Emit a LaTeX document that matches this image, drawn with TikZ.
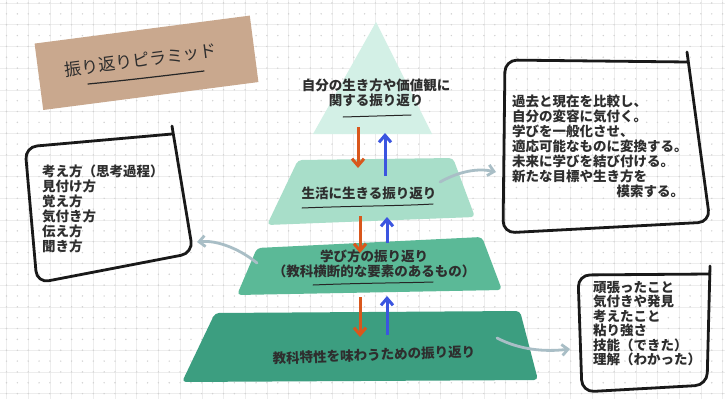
\documentclass[tikz,border=0pt]{standalone}
\usepackage{fontspec}
\setmainfont{Noto Sans CJK JP}
\usetikzlibrary{arrows.meta}
\definecolor{tan}{HTML}{C9A88E}
\definecolor{tierA}{HTML}{D3F0E6}
\definecolor{tierB}{HTML}{A8DEC9}
\definecolor{tierC}{HTML}{5BB997}
\definecolor{tierD}{HTML}{3C9E80}
\definecolor{downc}{HTML}{D9571C}
\definecolor{upc}{HTML}{3B55E0}
\definecolor{linkc}{HTML}{A9BEC6}
\definecolor{txt}{HTML}{2E2E2E}
\definecolor{gridc}{HTML}{EDEDED}
\definecolor{dotc}{HTML}{D2D2D2}
\tikzset{
  jtext/.style={font=\bfseries\fontsize{13.5}{15}\selectfont, text=txt, inner sep=0pt},
  boxtext/.style={jtext, align=left, anchor=north west},
  handbox/.style={draw=black!90, line width=2.8pt, rounded corners=12pt, line cap=round},
  downarrow/.style={draw=downc, line width=3pt, -{Straight Barb[length=7pt,width=12pt]}},
  uparrow/.style={draw=upc, line width=3pt, -{Straight Barb[length=7pt,width=12pt]}},
  linkarrow/.style={draw=linkc, line width=2.8pt, line cap=round, -{Straight Barb[length=6pt,width=11pt]}},
  uline/.style={draw=black!85, line width=1pt, line cap=round}
}
\begin{document}
\begin{tikzpicture}[x=1pt,y=-1pt]
\useasboundingbox (0,0) rectangle (725,399);
\fill[white] (0,0) rectangle (725,399);
% background grid
\foreach \gx in {6.5,28.2,...,725} \draw[gridc, line width=0.6pt] (\gx,0) -- (\gx,399);
\foreach \gy in {3,24.7,...,399} \draw[gridc, line width=0.6pt] (0,\gy) -- (725,\gy);
\foreach \gx in {6.5,17.35,...,725} {
  \foreach \gy in {3,13.85,...,399} { \fill[dotc] (\gx,\gy) circle (0.8pt); }
}
% title tag
\node[fill=tan, rotate=7.4, minimum width=217pt, minimum height=67pt, inner sep=0pt] (tag) at (146.5,62.8) {};
\node[font=\fontsize{17}{19}\selectfont, text=txt, rotate=7.4, inner sep=0pt] (title) at (141,60) {振り返りピラミッド};
\draw[uline, line width=1.2pt] (88,84) .. controls (130,80) and (170,75) .. (204,71);

% pyramid tiers
\fill[tierA] (376,22) -- (432,134) -- (313,134) -- cycle;
\fill[tierB, rounded corners=4pt] (298,160) -- (453,158) -- (475,217) -- (267,225) -- cycle;
\fill[tierC, rounded corners=4pt] (257,248) -- (482,237) -- (502,290) -- (237,295) -- cycle;
\fill[tierD, rounded corners=4pt] (215,313) -- (520,311) -- (538,380) -- (182,382) -- cycle;

% tier texts
\node[jtext, align=center] (t1) at (376,93) {自分の生き方や価値観に\\関する振り返り};
\draw[uline] (343,117) -- (411,115);
\node[jtext] (t2) at (369,193) {生活に生きる振り返り};
\draw[uline] (302,208) .. controls (350,206) and (400,206) .. (433,204);
\node[jtext, align=center] (t3) at (374,263.5) {学び方の振り返り\\（教科横断的な要素のあるもの）};
\draw[uline] (313,285) .. controls (360,283) and (400,283) .. (433,282);
\node[jtext, rotate=2] (t4) at (374,355) {教科特性を味わうための振り返り};

% up/down arrows
\coordinate (d1s) at (358,127); \coordinate (d1e) at (358,168);
\coordinate (u1s) at (385,176); \coordinate (u1e) at (385,133);
\coordinate (d2s) at (360,216); \coordinate (d2e) at (360,253);
\coordinate (u2s) at (387,243); \coordinate (u2e) at (387,217);
\coordinate (d3s) at (360,297); \coordinate (d3e) at (360,337);
\coordinate (u3s) at (387,335); \coordinate (u3e) at (387,296);
\draw[downarrow] (d1s) -- (d1e);
\draw[uparrow] (u1s) -- (u1e);
\draw[downarrow] (d2s) -- (d2e);
\draw[uparrow] (u2s) -- (u2e);
\draw[downarrow] (d3s) -- (d3e);
\draw[uparrow] (u3s) -- (u3e);

% left box
\draw[handbox] (172,134) -- (25,147) -- (37,283) -- (193,253) -- (172,126);
\node[boxtext] (lt) at (42,165) {考え方（思考過程）\\見付け方\\覚え方\\気付き方\\伝え方\\聞き方};

% right top box
\draw[handbox] (688,62) -- (505,60) -- (503,233) -- (710,222) -- (687,52);
\node[boxtext, text width=172pt] (rt) at (512,95) {過去と現在を比較し、\\自分の変容に気付く。\\学びを一般化させ、\\適応可能なものに変換する。\\未来に学びを結び付ける。\\新たな目標や生き方を\\\hfill 模索する。};

% right bottom box
\draw[handbox] (710,274) -- (578,275) -- (582,392) -- (707,385) -- (710,266);
\node[boxtext, font=\bfseries\fontsize{13.5}{14.5}\selectfont] (rb) at (593,281) {頑張ったこと\\気付きや発見\\考えたこと\\粘り強さ\\技能（できた）\\理解（わかった）};

% link arrows
\coordinate (la) at (257,263); \coordinate (lb) at (197,242);
\coordinate (ra) at (440,182); \coordinate (rb2) at (496,172);
\coordinate (ba) at (497,338); \coordinate (bb) at (570,349);
\draw[linkarrow] (la) .. controls (237,247) and (215,240) .. (lb);
\draw[linkarrow] (ra) .. controls (460,171) and (478,168) .. (rb2);
\draw[linkarrow] (ba) .. controls (520,350) and (545,352) .. (bb);
\end{tikzpicture}
\end{document}
